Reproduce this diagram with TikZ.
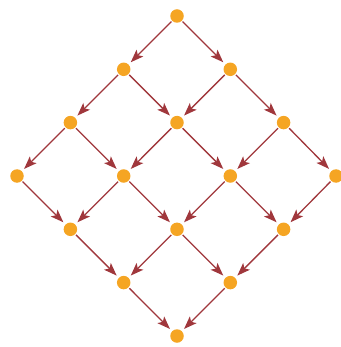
\documentclass[tikz,border=0pt]{standalone}
\usetikzlibrary{arrows.meta}
\definecolor{dotc}{RGB}{245,165,35}
\definecolor{edgec}{RGB}{160,55,60}
\begin{document}
\begin{tikzpicture}[x=1pt,y=-1pt,
  dot/.style={circle,fill=dotc,inner sep=0pt,minimum size=13.5pt},
  edge/.style={draw=edgec,line width=1.3pt,-{Stealth[length=13pt,width=9.5pt,inset=3pt]},shorten >=3pt,shorten <=1pt}]
\useasboundingbox (0,0) rectangle (340,347);
\node[dot] (a1) at (177,16) {};
\node[dot] (b1) at (123.7,69.3) {};
\node[dot] (b2) at (230.3,69.3) {};
\node[dot] (c1) at (70.4,122.6) {};
\node[dot] (c2) at (177,122.6) {};
\node[dot] (c3) at (283.6,122.6) {};
\node[dot] (d1) at (17,176) {};
\node[dot] (d2) at (123.7,176) {};
\node[dot] (d3) at (230.3,176) {};
\node[dot] (d4) at (336,176) {};
\node[dot] (e1) at (70.4,229.3) {};
\node[dot] (e2) at (177,229.3) {};
\node[dot] (e3) at (283.6,229.3) {};
\node[dot] (f1) at (123.7,282.6) {};
\node[dot] (f2) at (230.3,282.6) {};
\node[dot] (g1) at (177,336) {};
\foreach \u/\v in {a1/b1,a1/b2,b1/c1,b1/c2,b2/c2,b2/c3,c1/d1,c1/d2,c2/d2,c2/d3,c3/d3,c3/d4,d1/e1,d2/e1,d2/e2,d3/e2,d3/e3,d4/e3,e1/f1,e2/f1,e2/f2,e3/f2,f1/g1,f2/g1}
  \draw[edge] (\u) -- (\v);
\end{tikzpicture}
\end{document}
